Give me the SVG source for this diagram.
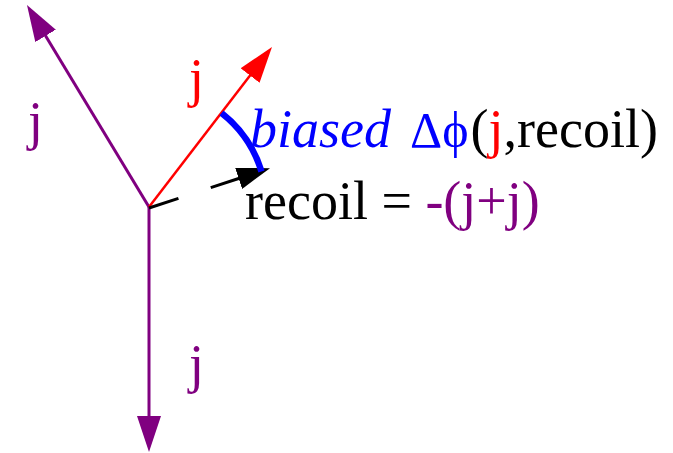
<svg xmlns="http://www.w3.org/2000/svg" width="673" height="453" viewBox="0 0 673 453">
<style>
text{font-family:"Liberation Serif","Times New Roman",serif;font-size:54px}
.pu{fill:#800080}.rd{fill:#ff0000}.bl{fill:#0000ff}.bk{fill:#000000}
</style>
<defs>
<marker id="mp" markerUnits="userSpaceOnUse" markerWidth="36" markerHeight="24" refX="6" refY="12" orient="auto" viewBox="0 0 36 24"><path d="M0,0 L36,12 L0,24 z" fill="#800080"/></marker>
<marker id="mr" markerUnits="userSpaceOnUse" markerWidth="36" markerHeight="24" refX="6" refY="12" orient="auto" viewBox="0 0 36 24"><path d="M0,0 L36,12 L0,24 z" fill="#ff0000"/></marker>
<marker id="mk" markerUnits="userSpaceOnUse" markerWidth="33" markerHeight="22" refX="5" refY="11" orient="auto" viewBox="0 0 33 22"><path d="M0,0 L33,11 L0,22 z" fill="#000000"/></marker>
</defs>
<g id="connectors" fill="none">
<line x1="149" y1="207" x2="42.5" y2="30.7" stroke="#800080" stroke-width="3" marker-end="url(#mp)"/>
<line x1="149" y1="207" x2="253.7" y2="70.8" stroke="#ff0000" stroke-width="2.5" marker-end="url(#mr)"/>
<line x1="149" y1="207" x2="149" y2="422" stroke="#800080" stroke-width="3" marker-end="url(#mp)"/>
<line x1="149" y1="208" x2="243.4" y2="176.9" stroke="#000000" stroke-width="3" stroke-dasharray="31,34" marker-end="url(#mk)"/>
<path d="M221.5,113 A118,118 0 0 1 261.5,171.5" stroke="#0000ff" stroke-width="6.5"/>
</g>
<g id="label-j-left"><text x="28" y="139" class="pu">j</text></g>
<g id="label-j-red"><text x="189" y="96" class="rd">j</text></g>
<g id="label-j-down"><text x="189" y="382" class="pu">j</text></g>
<g id="label-biased"><text x="250" y="147" class="bk"><tspan class="bl" font-style="italic">biased</tspan><tspan class="bl" x="410" font-size="50">Δϕ</tspan><tspan dx="2">(</tspan><tspan class="rd">j</tspan>,recoil)</text></g>
<g id="label-recoil"><text x="245" y="219" class="bk">recoil = <tspan class="pu">-(j+j)</tspan></text></g>
</svg>
